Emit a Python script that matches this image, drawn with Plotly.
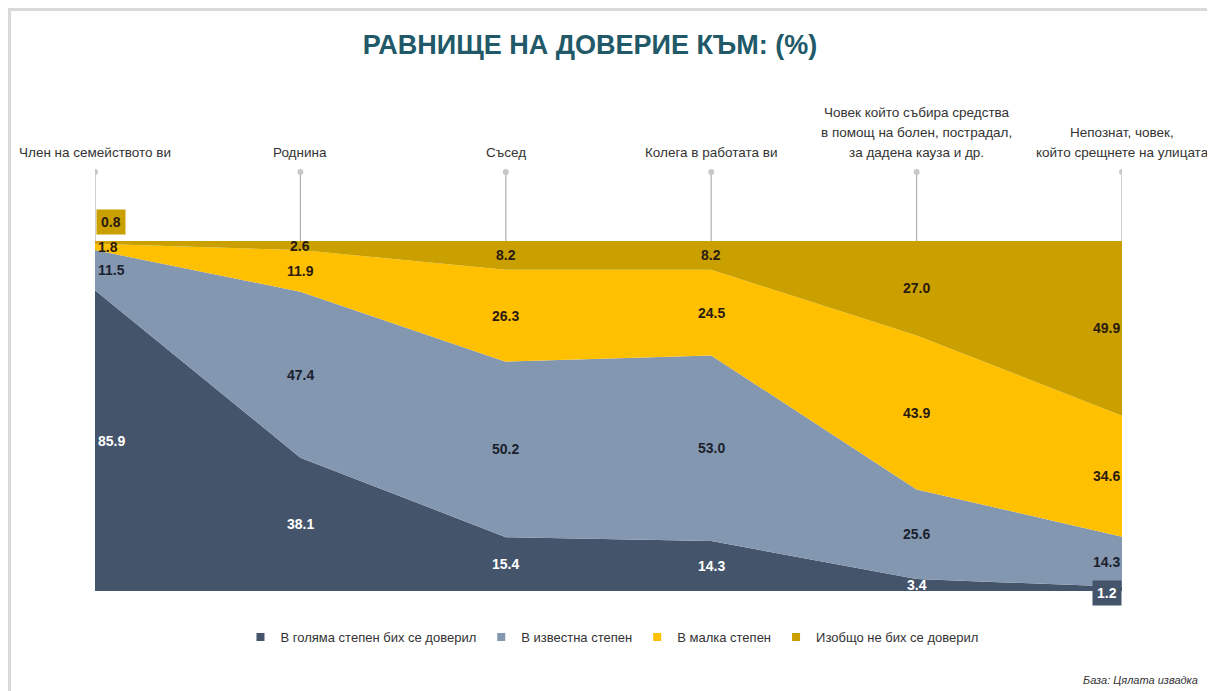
import plotly.graph_objects as go

categories = [
    "Член на семейството ви",
    "Роднина",
    "Съсед",
    "Колега в работата ви",
    "Човек който събира средства<br>в помощ на болен, пострадал,<br>за дадена кауза и др.",
    "Непознат, човек,<br>който срещнете на улицата",
]
series_names = ["В голяма степен бих се доверил", "В известна степен",
                "В малка степен", "Изобщо не бих се доверил"]
s_high = [85.9, 38.1, 15.4, 14.3, 3.4, 1.2]
s_some = [11.5, 47.4, 50.2, 53.0, 25.6, 14.3]
s_low = [1.8, 11.9, 26.3, 24.5, 43.9, 34.6]
s_none = [0.8, 2.6, 8.2, 8.2, 27.0, 49.9]

colors = ["#44546a", "#8497b0", "#ffc000", "#c9a000"]
label_colors = ["#ffffff", "#1b1f2e", "#2a1a10", "#2a1a10"]
series = [s_high, s_some, s_low, s_none]

FONT = "Liberation Sans Narrow, Arial Narrow, Liberation Sans, Arial"
xs = list(range(len(categories)))

# page body adds an 8px offset; figure geometry compensates for it
W, H = 1207, 683
ML, MR, MT, MB = 87, 93, 233, 100
PW = W - ML - MR
PH = H - MT - MB


def px_to_paper_x(px):
    return (px - ML) / PW


def px_to_paper_y(py):
    return (H - MB - py) / PH


fig = go.Figure()
for name, vals, col in zip(series_names, series, colors):
    fig.add_trace(go.Scatter(
        x=xs, y=vals, name=name, mode="none", stackgroup="one",
        groupnorm="percent", fillcolor=col, line=dict(width=0),
        hoverinfo="name+y", showlegend=False))
# legend entries with square swatches
for name, col in zip(series_names, colors):
    fig.add_trace(go.Scatter(
        x=[None], y=[None], name=name, mode="markers",
        marker=dict(symbol="square", size=8, color=col), showlegend=True))

annotations = []
n = len(categories)
for i in range(n):
    tot = sum(s[i] for s in series)
    base = 0.0
    for k, s in enumerate(series):
        v = s[i] / tot * 100
        mid = base + v / 2
        base += v
        if i == 0:
            xa, xsh = "left", 1
        elif i == n - 1:
            xa, xsh = "right", 0
        else:
            xa, xsh = "center", 0
        ann = dict(x=i, y=mid, xref="x", yref="y", text=f"<b>{s[i]:.1f}</b>",
                   showarrow=False, xanchor=xa, xshift=xsh,
                   font=dict(family=FONT, size=14, color=label_colors[k]))
        if s[i] < 1.0:
            ann.update(yshift=20, bgcolor=colors[k], borderpad=4)
        elif s[i] < 1.5:
            ann.update(yshift=-4, bgcolor=colors[k], borderpad=4)
        annotations.append(ann)

# category labels with leader lines
shapes = []
label_bottom = px_to_paper_y(152 - 8)
for i, c in enumerate(categories):
    lines = c.split("<br>")
    for j, ln in enumerate(reversed(lines)):
        annotations.append(dict(x=i, y=label_bottom, xref="x", yref="paper",
                                text=ln, showarrow=False, yanchor="middle",
                                xanchor="center", yshift=20 * j,
                                font=dict(family=FONT, size=13.5,
                                          color="#333333")))
    dot_y = px_to_paper_y(172 - 8)
    shapes.append(dict(type="line", xref="x", yref="paper", x0=i, x1=i,
                       y0=1.0, y1=dot_y,
                       line=dict(color="#b0b0b0", width=1.2)))
    shapes.append(dict(type="circle", xref="x", yref="paper",
                       xsizemode="pixel", ysizemode="pixel",
                       xanchor=i, yanchor=dot_y, x0=-3, x1=3, y0=-3, y1=3,
                       fillcolor="#c8c8c8", line=dict(width=0)))

# frame
shapes.append(dict(type="rect", xref="paper", yref="paper",
                   x0=px_to_paper_x(1.5), x1=px_to_paper_x(W + 20),
                   y0=px_to_paper_y(H + 20), y1=px_to_paper_y(1.5),
                   line=dict(color="#d9d9d9", width=3),
                   fillcolor="rgba(0,0,0,0)"))

annotations.append(dict(x=px_to_paper_x(1200 - 8), y=px_to_paper_y(680 - 8),
                        xref="paper", yref="paper",
                        xanchor="right", yanchor="middle", showarrow=False,
                        text="<i>База: Цялата извадка</i>",
                        font=dict(family=FONT, size=11, color="#333333")))

fig.update_layout(
    width=W, height=H,
    margin=dict(l=ML, r=MR, t=MT, b=MB),
    paper_bgcolor="white", plot_bgcolor="white",
    title=dict(text="<b>РАВНИЩЕ НА ДОВЕРИЕ КЪМ: (%)</b>",
               x=(590 - 8) / W, xanchor="center",
               y=1 - (45 - 8) / H, yanchor="middle",
               font=dict(family=FONT, size=27, color="#215968")),
    xaxis=dict(range=[0, n - 1], visible=False, fixedrange=True),
    yaxis=dict(range=[0, 100], visible=False, fixedrange=True),
    showlegend=True,
    legend=dict(orientation="h", x=px_to_paper_x(612 - 8), xanchor="center",
                y=px_to_paper_y(637 - 8), yanchor="middle",
                font=dict(family=FONT, size=13, color="#333333"),
                traceorder="normal", itemwidth=30),
    annotations=annotations, shapes=shapes,
)

fig.write_html("out.html")
